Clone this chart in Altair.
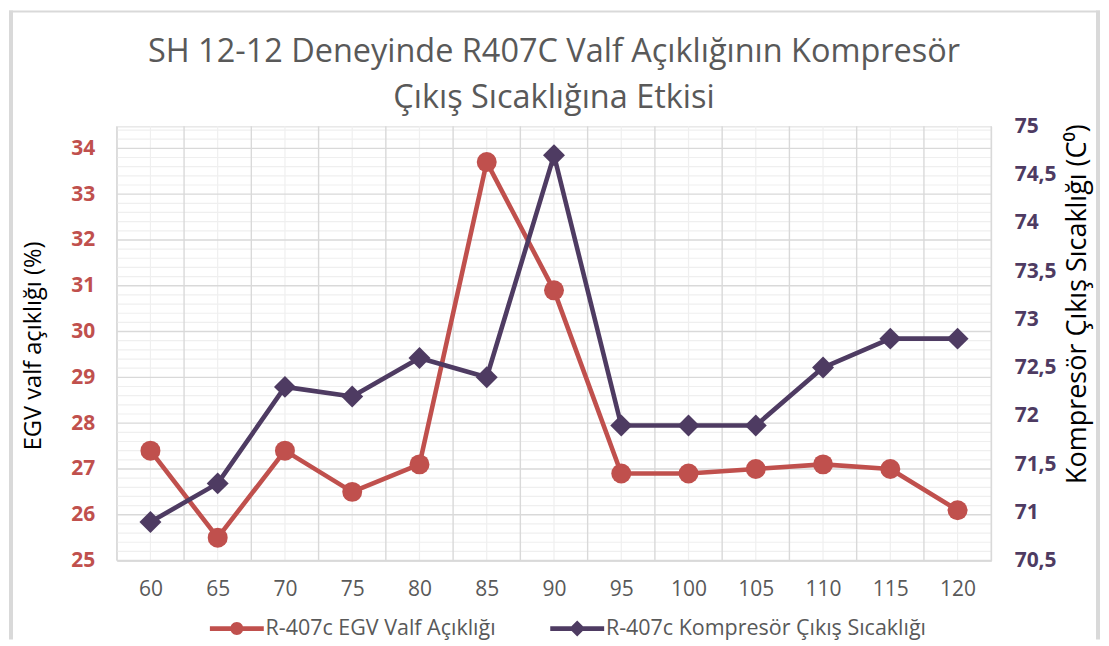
import altair as alt
import pandas as pd

# ---------------- data ----------------
sh_values = [60, 65, 70, 75, 80, 85, 90, 95, 100, 105, 110, 115, 120]
egv_opening = [27.4, 25.5, 27.4, 26.5, 27.1, 33.7, 30.9, 26.9, 26.9, 27.0, 27.1, 27.0, 26.1]
comp_temp = [70.9, 71.3, 72.3, 72.2, 72.6, 72.4, 74.7, 71.9, 71.9, 71.9, 72.5, 72.8, 72.8]

series_a = "R-407c EGV Valf Açıklığı"
series_b = "R-407c Kompresör Çıkış Sıcaklığı"

left_ticks = [25, 26, 27, 28, 29, 30, 31, 32, 33, 34]
right_ticks = [70.5, 71, 71.5, 72, 72.5, 73, 73.5, 74, 74.5, 75]

title_lines = ["SH 12-12 Deneyinde R407C Valf Açıklığının Kompresör",
               "Çıkış Sıcaklığına Etkisi"]
left_title = "EGV valf açıklığı (%)"
right_title = "Kompresör Çıkış Sıcaklığı (C⁰)"

# ---------------- styling ----------------
RED = "#C0504D"
PURPLE = "#4E3B62"
GREY_TXT = "#595959"
FONT = "Open Sans"

dfA = pd.DataFrame({"sh": sh_values, "val": egv_opening, "series": series_a})
dfB = pd.DataFrame({"sh": sh_values, "val": comp_temp, "series": series_b})

# grid positions (category boundaries, centres, minor steps of left axis)
v_major = [s - 2.5 for s in sh_values] + [sh_values[-1] + 2.5]
v_minor = list(sh_values)
h_major = left_ticks
h_minor = [round(25 + 0.2 * i, 1) for i in range(0, 48) if (i % 5) != 0]

x_scale = alt.Scale(domain=[57.5, 122.5], nice=False, zero=False)
yl_scale = alt.Scale(domain=[25, 34.48], nice=False, zero=False)
yr_scale = alt.Scale(domain=[70.5, 75], nice=False, zero=False)

x_axis = alt.Axis(values=sh_values, title=None, grid=False, ticks=False,
                  labelFont=FONT, labelFontSize=21, labelColor=GREY_TXT,
                  labelPadding=18, domainColor="#D9D9D9", domainWidth=1.5)
yl_axis = alt.Axis(values=left_ticks, title=left_title, grid=False, ticks=False,
                   domain=False, labelFont=FONT, labelFontSize=21,
                   labelFontWeight="bold", labelColor=RED, labelPadding=22,
                   titleFont=FONT, titleFontSize=23.7, titleFontWeight="normal",
                   titleColor="#000000", titleAngle=270, titleAlign="center",
                   titleBaseline="middle", titleX=-83, titleY=219.5)
yr_axis = alt.Axis(values=right_ticks, title=right_title, orient="right",
                   grid=False, ticks=False, domain=False,
                   labelExpr="replace(format(datum.value, '.1~f'), '.', ',')",
                   labelFont=FONT, labelFontSize=21, labelFontWeight="bold",
                   labelColor=PURPLE, labelPadding=23,
                   titleFont=FONT, titleFontSize=27, titleFontWeight="normal",
                   titleColor="#000000", titleAngle=270, titleAlign="center",
                   titleBaseline="middle", titleX=86, titleY=177.5)

# legend symbols: a short line with the series' marker on it
path_a = ("M-6.75,-0.6L6.75,-0.6L6.75,0.6L-6.75,0.6Z "
          "M1.625,0A1.625,1.625 0 1,1 -1.625,0A1.625,1.625 0 1,1 1.625,0Z")
path_b = ("M-6.75,-0.6L6.75,-0.6L6.75,0.6L-6.75,0.6Z "
          "M0,-2L2,0L0,2L-2,0Z")

legend = alt.Legend(
    title=None, orient="none", legendX=86.5, legendY=492, direction="horizontal",
    labelFont=FONT, labelFontSize=21.5, labelColor=GREY_TXT, labelLimit=600,
    symbolSize=64, symbolOffset=23, labelOffset=18, columnPadding=47,
    symbolStrokeWidth=0, symbolOpacity=1,
)

X = alt.X("sh:Q", scale=x_scale, axis=x_axis)

grid_v_minor = alt.Chart(pd.DataFrame({"sh": v_minor})).mark_rule(
    color="#EFEFEF", strokeWidth=1.2).encode(x=X)
grid_h_minor = alt.Chart(pd.DataFrame({"val": h_minor})).mark_rule(
    color="#EFEFEF", strokeWidth=1.2).encode(
    y=alt.Y("val:Q", scale=yl_scale, axis=yl_axis))
grid_v_major = alt.Chart(pd.DataFrame({"sh": v_major})).mark_rule(
    color="#D9D9D9", strokeWidth=1.4).encode(x=X)
grid_h_major = alt.Chart(pd.DataFrame({"val": h_major})).mark_rule(
    color="#D9D9D9", strokeWidth=1.4).encode(
    y=alt.Y("val:Q", scale=yl_scale, axis=yl_axis))

lineA = alt.Chart(dfA).mark_line(color=RED, strokeWidth=4.6, strokeJoin="round").encode(
    x=X, y=alt.Y("val:Q", scale=yl_scale, axis=yl_axis))
pointA = alt.Chart(dfA).mark_point(color=RED, shape="circle", filled=True, size=400,
                                   opacity=1).encode(
    x=X, y=alt.Y("val:Q", scale=yl_scale, axis=yl_axis))

lineB = alt.Chart(dfB).mark_line(color=PURPLE, strokeWidth=4.6, strokeJoin="round").encode(
    x=X, y=alt.Y("val:Q", scale=yr_scale, axis=yr_axis))
pointB = alt.Chart(dfB).mark_point(color=PURPLE, shape="diamond", filled=True, size=484,
                                   opacity=1).encode(
    x=X, y=alt.Y("val:Q", scale=yr_scale, axis=yr_axis))

# legend-only layer (no marks drawn, legend built from explicit domains)
legend_layer = alt.Chart(pd.concat([dfA, dfB])).mark_point(
    filled=True, opacity=1, size=64).encode(
    color=alt.Color("series:N", title=None,
                    scale=alt.Scale(domain=[series_a, series_b], range=[RED, PURPLE]),
                    legend=legend),
    shape=alt.Shape("series:N", title=None,
                    scale=alt.Scale(domain=[series_a, series_b], range=[path_a, path_b]),
                    legend=legend),
).transform_filter("false")

left = alt.layer(grid_v_minor, grid_h_minor, grid_v_major, grid_h_major, lineA, pointA)
right = alt.layer(lineB, pointB)

one = alt.Data(values=[{}])
border_left = alt.Chart(one).mark_rule(color="#D9D9D9", strokeWidth=4).encode(
    x=alt.value(-106), y=alt.value(-116), y2=alt.value(514))
border_top = alt.Chart(one).mark_rule(color="#D9D9D9", strokeWidth=2).encode(
    x=alt.value(-108), x2=alt.value(985), y=alt.value(-115))
border_right = alt.Chart(one).mark_rule(color="#D9D9D9", strokeWidth=4).encode(
    x=alt.value(983), y=alt.value(-116), y2=alt.value(514))

chart = alt.layer(left, right, legend_layer, border_left, border_top, border_right).resolve_scale(
    y="independent"
).properties(
    width=876, height=435, padding=0,
    title=alt.TitleParams(text=title_lines, font=FONT, fontSize=32.5,
                          fontWeight="normal", color=GREY_TXT, lineHeight=46,
                          anchor="middle", frame="group", offset=-106),
).configure_view(strokeWidth=0).configure(background="white")

chart.save("out.html", embed_options={"renderer": "svg", "actions": False})
